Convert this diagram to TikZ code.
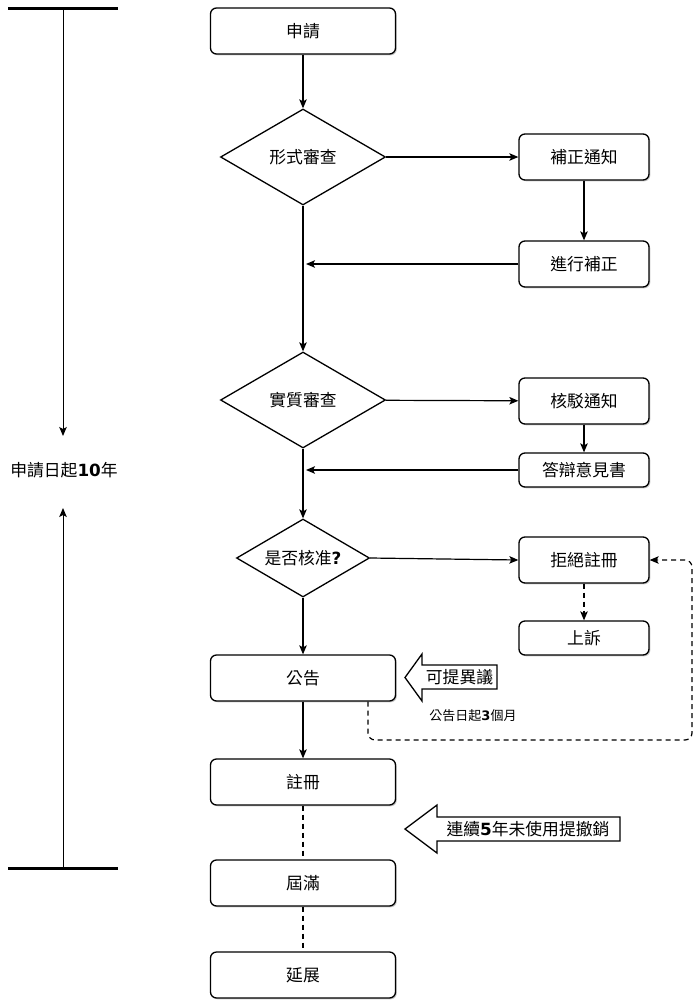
\documentclass[tikz,border=0pt]{standalone}
\usepackage{fontspec}
\setmainfont{Noto Sans CJK TC}
\newfontfamily\dvfont{DejaVu Sans}
\usetikzlibrary{shapes.geometric,arrows.meta,shadows}
\newcommand{\bdig}[1]{{\dvfont\bfseries #1}}
\begin{document}
\begin{tikzpicture}[x=1pt,y=-1pt,
  lbl/.style={font=\fontsize{16.8}{19}\selectfont},
  shad/.style={drop shadow={shadow xshift=1.3pt,shadow yshift=-1.3pt,opacity=0.35,fill=black!60}},
  box/.style={draw,rounded corners=6pt,line width=1.3pt,fill=white,minimum width=185pt,minimum height=46pt,inner sep=0pt,lbl,shad},
  sbox/.style={box,minimum width=130pt},
  dia/.style={diamond,draw,line width=1.3pt,fill=white,inner sep=0pt,aspect=1.7,lbl},
  arr/.style={-{Stealth[length=9pt,width=7.5pt,inset=2pt]},line width=1.2pt},
  dsh/.style={dash pattern=on 5pt off 4pt},
  blk/.style={draw,line width=1.3pt,fill=white,line join=miter}
]
\useasboundingbox (0,0) rectangle (700,1002);

% timeline
\coordinate (tt) at (63,8);
\coordinate (tb) at (63,868);
\coordinate (ta1) at (63,436);
\coordinate (ta2) at (63,508);
\draw[line width=3pt] (8,8) -- (118,8);
\draw[line width=3pt] (8,868) -- (118,868);
\draw[arr,line width=1pt] (tt) -- (ta1);
\draw[arr,line width=1pt] (tb) -- (ta2);
\node[lbl] (tl) at (64,470) {申請日起\bdig{10}年};

% main nodes
\node[box] (apply) at (303,31) {申請};
\node[dia,minimum width=165pt,minimum height=96pt] (form) at (303,157) {形式審查};
\node[sbox] (notice) at (584,157) {補正通知};
\node[sbox] (amend) at (584,264) {進行補正};
\node[dia,minimum width=165pt,minimum height=96pt] (subst) at (303,400) {實質審查};
\node[sbox] (reject) at (584,401) {核駁通知};
\node[sbox,minimum height=34pt] (reply) at (584,470) {答辯意見書};
\node[dia,minimum width=133pt,minimum height=78pt] (approve) at (303,558) {是否核准\bdig{?}};
\node[sbox] (refuse) at (584,560) {拒絕註冊};
\node[sbox,minimum height=34pt] (appeal) at (584,638) {上訴};
\node[box] (pub) at (303,678) {公告};
\node[box] (reg) at (303,782) {註冊};
\node[box] (exp) at (303,883) {屆滿};
\node[box] (ext) at (303,975) {延展};

% connectors
\coordinate (m1) at (306,264);
\coordinate (m2) at (306,470);
\draw[arr] (apply) -- (form);
\draw[arr] (form) -- (notice);
\draw[arr] (notice) -- (amend);
\draw[arr] (amend) -- (m1);
\draw[arr] (form) -- (subst);
\draw[arr] (subst) -- (reject);
\draw[arr] (reject) -- (reply);
\draw[arr] (reply) -- (m2);
\draw[arr] (subst) -- (approve);
\draw[arr] (approve.east) -- (refuse.west);
\draw[arr] (approve) -- (pub);
\draw[arr,dsh] (refuse) -- (appeal);
\draw[arr] (pub) -- (reg);
\draw[line width=1.2pt,dsh] (reg) -- (exp);
\draw[line width=1.2pt,dsh] (exp) -- (ext);
\draw[arr,dsh,rounded corners=7pt] ([xshift=65pt]pub.south) |- (692,740) |- (refuse.east);

% block arrows
\draw[blk] (497,665) -- (422,665) -- (422,654) -- (405,677.5) -- (422,701) -- (422,689) -- (497,689) -- cycle;
\node[lbl] (obj) at (459.5,677) {可提異議};
\node[font=\fontsize{13}{15}\selectfont] (obj3) at (473,716) {公告日起\bdig{3}個月};
\draw[blk] (620,817) -- (437,817) -- (437,805) -- (405,829) -- (437,853) -- (437,841) -- (620,841) -- cycle;
\node[lbl] (nonuse) at (528,829) {連續\bdig{5}年未使用提撤銷};
\end{tikzpicture}
\end{document}
